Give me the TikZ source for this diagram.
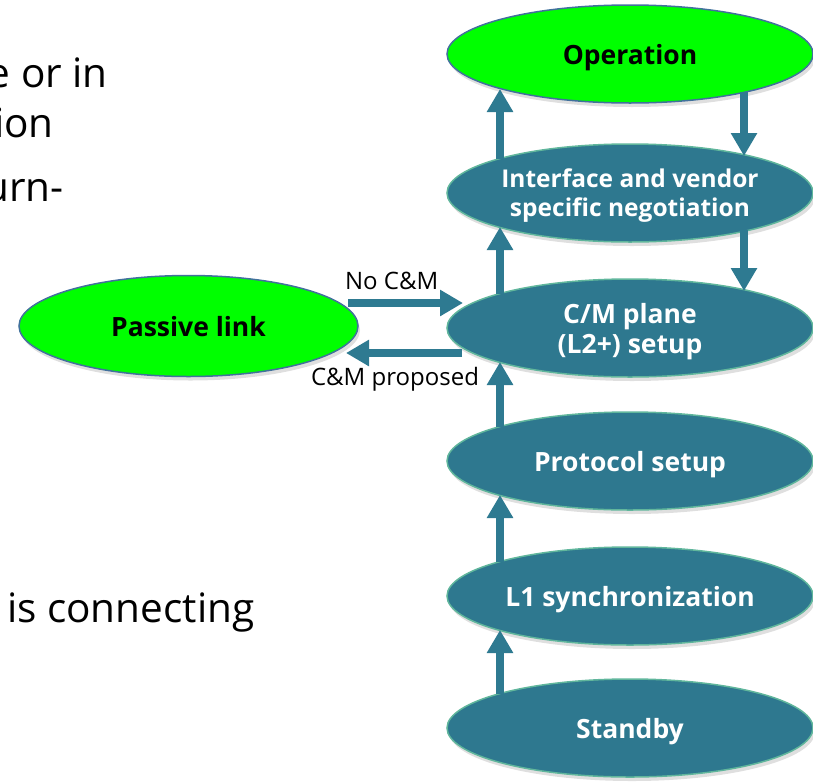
\documentclass[tikz,border=0pt]{standalone}
\usepackage{fontspec}
\setmainfont{Open Sans}
\usetikzlibrary{shapes.geometric,arrows.meta,calc,shadows}
\definecolor{teal}{RGB}{46,120,143}
\definecolor{tealedge}{RGB}{96,182,156}
\definecolor{greenfill}{RGB}{0,255,0}
\definecolor{blueedge}{RGB}{65,113,156}
\definecolor{arrowc}{RGB}{46,122,145}
\tikzset{
  state/.style={ellipse, fill=teal, draw=tealedge, line width=1.5pt,
    minimum width=366pt, minimum height=98pt, inner sep=0pt, text depth=0pt,
    text=white, font=\fontsize{26.5}{30}\selectfont\bfseries, align=center,
    drop shadow={opacity=0.25, shadow xshift=2pt, shadow yshift=-4pt}},
  gstate/.style={state, fill=greenfill, draw=blueedge, text=black},
  flow/.style={draw=arrowc, line width=8pt,
    -{Triangle[width=25pt,length=23pt]}},
  lbl/.style={font=\fontsize{24}{28}\selectfont, inner sep=0pt},
  slide/.style={font=\fontsize{40.5}{48}\selectfont, inner sep=0pt}
}
\begin{document}
\begin{tikzpicture}[x=1pt,y=-1pt]
\useasboundingbox (0,0) rectangle (813,782);
\clip (0,0) rectangle (813,782);
% slide text fragments
\node[slide, anchor=base east] (t1) at (108,87) {e or in};
\node[slide, anchor=base east] (t2) at (54,137) {ion};
\node[slide, anchor=base east] (t3) at (64,201) {urn-};
\node[slide, anchor=base west] (t4) at (7,622) {is connecting};
% states
\node[gstate] (op) at (630,54) {Operation};
\node[state, font=\fontsize{24.5}{29}\selectfont\bfseries] (inter) at (630,193) {Interface and vendor\\specific negotiation};
\node[state] (cm) at (630,328) {C/M plane\\(L2+) setup};
\node[state] (proto) at (630,461) {Protocol setup};
\node[state] (l1) at (630,596) {L1 synchronization};
\node[state] (stby) at (630,728) {Standby};
\node[gstate, minimum width=339pt, minimum height=101pt] (pas) at (188.5,326) {Passive link};
% vertical arrows
\draw[flow] ($(inter.center)+(-130,-34)$) -- ($(op.center)+(-130,35)$);
\draw[flow] ($(op.center)+(114,38)$) -- ($(inter.center)+(114,-37)$);
\draw[flow] ($(cm.center)+(-130,-34)$) -- ($(inter.center)+(-130,34)$);
\draw[flow] ($(inter.center)+(114,37)$) -- ($(cm.center)+(114,-37)$);
\draw[flow] ($(proto.center)+(-130,-34)$) -- ($(cm.center)+(-130,34)$);
\draw[flow] ($(l1.center)+(-130,-34)$) -- ($(proto.center)+(-130,34)$);
\draw[flow] ($(stby.center)+(-130,-34)$) -- ($(l1.center)+(-130,34)$);
% horizontal arrows
\draw[flow] ($(pas.center)+(159.5,-23)$) -- ($(cm.center)+(-167,-25)$) node[lbl, pos=0.38, above=9pt] (nocm) {No C\&M};
\draw[flow] ($(cm.center)+(-168,25)$) -- ($(pas.center)+(157.5,27)$) node[lbl, pos=0.5, below=10pt, xshift=-9pt] (cmp) {C\&M proposed};
\end{tikzpicture}
\end{document}
